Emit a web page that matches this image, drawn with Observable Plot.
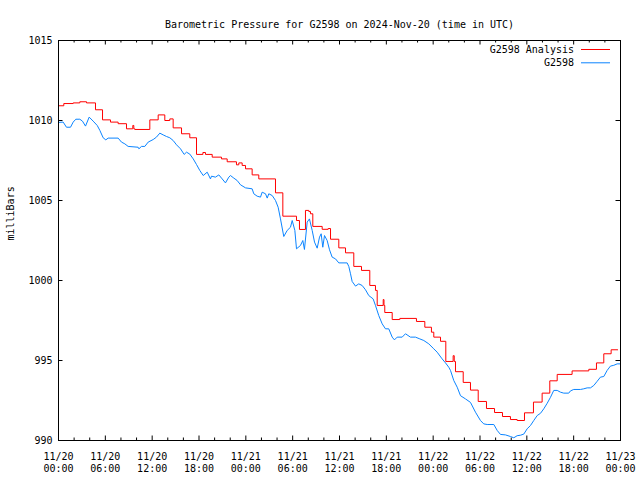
<!DOCTYPE html>
<html><head><meta charset="utf-8">
<script src="https://cdn.jsdelivr.net/npm/d3@7"></script>
<script src="https://cdn.jsdelivr.net/npm/@observablehq/plot@0.6"></script>
<style>body{margin:0;background:#fff}</style>
</head><body><div id="chart"></div>
<script>
const titleText = "Barometric Pressure for G2598 on 2024-Nov-20 (time in UTC)";
const yLabel = "milliBars";
const seriesNames = ["G2598 Analysis", "G2598"];
const seriesColors = ["#ff0000", "#0a84ff"];

// Hours since 2024-11-20 00:00 UTC
const redHours = [0, 0.68, 1.88, 2.73, 3.59, 4.74, 5.64, 6.66, 7.64, 8.71, 9.52, 9.65, 9.78, 11.7, 12.77, 13.62, 14.26, 14.69, 15.76, 16.82, 17.68, 18.5, 18.83, 19.69, 20.88, 21.61, 22.8, 23.1, 23.53, 23.96, 24.81, 25.66, 27.8, 28.74, 30.49, 30.87, 31.64, 32.07, 32.28, 32.58, 33.78, 34.55, 34.85, 35.91, 36.77, 37.83, 38.82, 39.88, 40.61, 40.83, 41.6, 41.7, 41.8, 42.75, 43.73, 45.86, 46.93, 47.78, 48.08, 48.94, 49.62, 50.56, 50.7, 50.86, 51.85, 52.78, 53.77, 54.83, 55.86, 56.88, 57.9, 58.76, 59.7, 60.85, 61.96, 62.94, 63.89, 65.8, 67.94, 68.92, 69.86, 70.8, 71.65];
const redPressure = [1010.92, 1011.06, 1011.1, 1011.17, 1011.1, 1010.67, 1010.04, 1009.9, 1009.8, 1009.48, 1009.69, 1009.48, 1009.44, 1010.04, 1010.35, 1010.0, 1010.1, 1009.54, 1009.17, 1008.92, 1007.88, 1008.0, 1007.88, 1007.71, 1007.6, 1007.42, 1007.23, 1007.35, 1007.19, 1006.98, 1006.6, 1006.35, 1005.48, 1004.02, 1003.75, 1003.19, 1004.38, 1004.31, 1004.17, 1003.38, 1003.2, 1003.25, 1002.58, 1002.04, 1001.73, 1000.88, 1000.63, 999.69, 999.38, 998.44, 998.81, 998.44, 998.0, 997.56, 997.63, 997.44, 997.08, 996.77, 996.46, 996.2, 994.94, 995.3, 994.94, 994.3, 993.63, 993.15, 992.44, 992.0, 991.75, 991.5, 991.31, 991.25, 991.73, 992.4, 992.96, 993.73, 994.13, 994.35, 994.45, 994.85, 995.42, 995.67, 995.67];

const blueHours = [0, 0.6, 1.02, 1.54, 1.88, 2.22, 2.73, 3.07, 3.46, 3.93, 4.44, 4.96, 5.3, 5.72, 6.06, 6.36, 7.64, 8.07, 8.5, 8.92, 10.2, 10.3, 10.63, 11.06, 11.49, 12.13, 12.55, 12.98, 13.41, 13.84, 14.26, 14.69, 15.12, 15.63, 16.1, 16.4, 16.82, 17.26, 17.68, 18.1, 18.54, 19.05, 19.47, 19.6, 20.11, 20.54, 20.97, 21.39, 21.82, 22.03, 22.46, 22.89, 23.32, 23.96, 24.81, 25.02, 25.45, 25.88, 26.09, 26.52, 26.74, 26.94, 27.38, 27.8, 28.14, 28.44, 28.86, 29.3, 29.72, 29.94, 30.28, 30.49, 31.0, 31.3, 31.51, 31.86, 32.15, 32.5, 32.8, 33.14, 33.44, 33.65, 33.86, 34.08, 34.42, 34.72, 35.06, 35.49, 35.91, 36.98, 37.19, 37.41, 37.62, 38.05, 38.47, 38.9, 39.33, 39.75, 40.31, 40.61, 41.03, 41.47, 41.89, 42.31, 42.75, 43.04, 43.39, 44.03, 44.45, 45.09, 45.73, 46.29, 46.8, 47.44, 48.08, 48.51, 49.15, 49.58, 50.0, 50.22, 50.64, 51.08, 51.5, 52.14, 52.78, 53.42, 54.06, 54.48, 54.92, 55.77, 56.2, 56.62, 57.26, 57.9, 58.33, 58.76, 59.18, 59.61, 60.04, 60.47, 60.89, 61.33, 61.75, 62.17, 62.61, 63.03, 63.45, 63.89, 64.31, 64.73, 65.37, 65.59, 66.01, 66.87, 67.29, 67.73, 68.15, 68.58, 69.01, 69.43, 69.86, 70.29, 70.71, 71.14, 71.57, 72];
const bluePressure = [1009.88, 1009.9, 1009.58, 1009.58, 1009.9, 1010.08, 1010.08, 1009.96, 1009.65, 1010.21, 1009.96, 1009.69, 1009.38, 1008.92, 1008.79, 1008.9, 1008.9, 1008.65, 1008.54, 1008.38, 1008.33, 1008.23, 1008.38, 1008.38, 1008.65, 1008.81, 1008.96, 1009.21, 1009.1, 1009.0, 1008.92, 1008.75, 1008.48, 1008.23, 1007.88, 1008.02, 1007.9, 1007.6, 1007.25, 1006.88, 1006.56, 1006.77, 1006.35, 1006.52, 1006.46, 1006.6, 1006.35, 1006.1, 1006.46, 1006.56, 1006.4, 1006.25, 1005.98, 1005.79, 1005.73, 1005.42, 1005.27, 1005.21, 1005.52, 1005.42, 1005.15, 1005.42, 1005.31, 1005.0, 1004.58, 1003.85, 1002.75, 1003.13, 1003.33, 1003.75, 1003.13, 1001.98, 1002.19, 1002.5, 1001.94, 1003.65, 1003.85, 1003.13, 1002.4, 1002.02, 1002.71, 1002.92, 1002.08, 1002.81, 1002.5, 1001.92, 1001.46, 1001.35, 1001.1, 1001.1, 1000.88, 1000.42, 999.94, 999.65, 999.79, 999.69, 999.42, 999.06, 998.85, 998.44, 997.81, 997.29, 996.98, 996.98, 996.46, 996.29, 996.46, 996.46, 996.67, 996.46, 996.46, 996.35, 996.25, 996.04, 995.73, 995.52, 995.1, 994.85, 994.58, 994.38, 993.75, 993.33, 992.8, 992.6, 992.38, 991.77, 991.25, 991.04, 991.0, 991.0, 990.63, 990.38, 990.35, 990.25, 990.17, 990.3, 990.33, 990.4, 990.73, 990.94, 991.25, 991.56, 991.7, 991.98, 992.33, 992.7, 993.13, 993.13, 993.02, 992.96, 992.96, 993.1, 993.19, 993.19, 993.23, 993.29, 993.29, 993.44, 993.7, 993.96, 994.0, 994.38, 994.65, 994.7, 994.79, 994.79];

const xTickHours = [0, 6, 12, 18, 24, 30, 36, 42, 48, 54, 60, 66, 72];
const xTickLabels = ["11/20\n00:00", "11/20\n06:00", "11/20\n12:00", "11/20\n18:00", "11/21\n00:00", "11/21\n06:00", "11/21\n12:00", "11/21\n18:00", "11/22\n00:00", "11/22\n06:00", "11/22\n12:00", "11/22\n18:00", "11/23\n00:00"];
const xMinorHours = [2, 4, 8, 10, 14, 16, 20, 22, 26, 28, 32, 34, 38, 40, 44, 46, 50, 52, 56, 58, 62, 64, 68, 70];
const yTicks = [990, 995, 1000, 1005, 1010, 1015];

const W = 640, H = 480, mL = 58, mR = 20, mT = 40, mB = 40;
const plotW = W - mL - mR, plotH = H - mT - mB;
const majorLen = 4.5, minorLen = 2.5;

const red = redHours.map((h, i) => ({h, p: redPressure[i]}));
const blue = blueHours.map((h, i) => ({h, p: bluePressure[i]}));

const legend = (index, scales, values, dims) => {
  const g = d3.create("svg:g");
  const xr = dims.width - dims.marginRight;
  seriesNames.forEach((name, i) => {
    const y = dims.marginTop + 9.5 + i * 13.3;
    g.append("text").attr("x", xr - 46).attr("y", y).attr("dy", "0.35em")
      .attr("text-anchor", "end").attr("fill", "black").text(name);
    g.append("line").attr("x1", xr - 39).attr("x2", xr - 10).attr("y1", y).attr("y2", y)
      .attr("stroke", seriesColors[i]).attr("stroke-width", 1);
  });
  return g.node();
};

const chart = Plot.plot({
  width: W, height: H,
  marginLeft: mL, marginRight: mR, marginTop: mT, marginBottom: mB,
  style: {fontFamily: "'DejaVu Sans Mono', monospace", fontSize: "10px", background: "white", color: "black"},
  x: {domain: [0, 72]},
  y: {domain: [990, 1015]},
  marks: [
    Plot.ruleX(xTickHours, {x: d => d, stroke: "black", insetTop: plotH - majorLen}),
    Plot.ruleX(xTickHours, {x: d => d, stroke: "black", insetBottom: plotH - majorLen}),
    Plot.ruleX(xMinorHours, {x: d => d, stroke: "black", insetTop: plotH - minorLen}),
    Plot.ruleX(xMinorHours, {x: d => d, stroke: "black", insetBottom: plotH - minorLen}),
    Plot.ruleY(yTicks, {y: d => d, stroke: "black", insetRight: plotW - majorLen}),
    Plot.ruleY(yTicks, {y: d => d, stroke: "black", insetLeft: plotW - majorLen}),
    Plot.line(red, {x: "h", y: "p", stroke: seriesColors[0], strokeWidth: 1, curve: "step-after"}),
    Plot.line(blue, {x: "h", y: "p", stroke: seriesColors[1], strokeWidth: 1}),
    Plot.frame({stroke: "black", strokeWidth: 1}),
    Plot.axisX(xTickHours, {tickSize: 0, tickPadding: 10, lineHeight: 1.27, label: null,
      tickFormat: d => xTickLabels[xTickHours.indexOf(d)]}),
    Plot.axisY(yTicks, {tickSize: 0, tickPadding: 6, label: null, tickFormat: d => String(d)}),
    Plot.text([titleText], {text: d => d, frameAnchor: "top", dy: -20}),
    Plot.text([yLabel], {text: d => d, frameAnchor: "left", dx: -48, rotate: -90}),
    legend
  ]
});
document.getElementById("chart").appendChild(chart);
</script>
</body></html>
